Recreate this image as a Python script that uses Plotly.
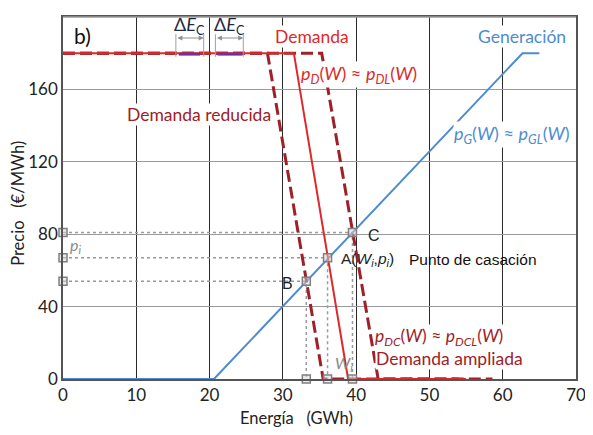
import plotly.graph_objects as go

# ---------------- data ----------------
gen_x = [0, 20.6, 62.7, 65]
gen_y = [0, 0, 180, 180]

dem_x = [0, 31.5, 38.9, 55]
dem_y = [180, 180, 0, 0]

red_x = [0, 27.9, 35.5, 54]
red_y = [180, 180, 0, 0]

amp_x = [0, 35.3, 43.0, 58.6]
amp_y = [180, 180, 0, 0]

purple_segments = [(15.8, 18.7), (21.1, 24.5)]
purple_level = 179.5

delta_brackets = [(15.4, 19.2), (20.8, 24.6)]
bracket_low, bracket_high, bracket_arrow = 178, 190.5, 188.4

point_names = ["B", "A", "C"]
point_w = [33.2, 36.1, 39.5]
point_p = [54, 67, 81]

x_ticks = [0, 10, 20, 30, 40, 50, 60, 70]
y_ticks = [0, 40, 80, 120, 160, 200]

# ---------------- style ----------------
RED = "#dc2a2a"
DARKRED = "#9e2128"
BLUE = "#4d8ccf"
PURPLE = "#7030a0"
FONT = "Lato"
ARIAL = "Liberation Sans"

fig = go.Figure()

# dotted guide lines
for w, p in zip(point_w, point_p):
    fig.add_trace(go.Scatter(x=[0, w, w], y=[p, p, 0], mode="lines",
                             line=dict(color="#9a9a9a", width=1.5, dash="dot"),
                             hoverinfo="skip", showlegend=False))

# generation
fig.add_trace(go.Scatter(x=gen_x, y=gen_y, mode="lines",
                         line=dict(color=BLUE, width=2), showlegend=False))

# reduced & amplified demand (dashed)
fig.add_trace(go.Scatter(x=red_x, y=red_y, mode="lines",
                         line=dict(color=DARKRED, width=3, dash="12px,5px"), showlegend=False))
fig.add_trace(go.Scatter(x=amp_x, y=amp_y, mode="lines",
                         line=dict(color=DARKRED, width=3, dash="12px,5px"), showlegend=False))
# demand (solid)
fig.add_trace(go.Scatter(x=dem_x, y=dem_y, mode="lines",
                         line=dict(color=RED, width=2), showlegend=False))

# purple segments
for a, b in purple_segments:
    fig.add_trace(go.Scatter(x=[a, b], y=[purple_level, purple_level], mode="lines",
                             line=dict(color=PURPLE, width=3), showlegend=False))

# markers
mk_x, mk_y = [], []
for w, p in zip(point_w, point_p):
    mk_x += [0, w, w]
    mk_y += [p, p, 0]
fig.add_trace(go.Scatter(x=mk_x, y=mk_y, mode="markers",
                         marker=dict(symbol="square", size=8, color="rgba(215,215,215,0.5)",
                                     line=dict(color="#808080", width=1.5)),
                         cliponaxis=False, showlegend=False))

shapes = []
annotations = []
for a, b in delta_brackets:
    for xv in (a, b):
        shapes.append(dict(type="line", xref="x", yref="y", x0=xv, x1=xv,
                           y0=bracket_low, y1=bracket_high,
                           line=dict(color="#a0a0a0", width=1)))
    annotations.append(dict(x=b, y=bracket_arrow, ax=a, ay=bracket_arrow,
                            xref="x", yref="y", axref="x", ayref="y", text="",
                            showarrow=True, arrowhead=2, arrowside="end+start",
                            arrowsize=1, arrowwidth=1, arrowcolor="#909090"))
    annotations.append(dict(x=(a + b) / 2, y=195.5, xref="x", yref="y",
                            text="Δ<i>E</i><sub>C</sub>", showarrow=False,
                            font=dict(family=FONT, size=18, color="#1f2a44")))

# grey top border (reference shows it lighter than the other sides)
shapes.append(dict(type="line", xref="paper", yref="paper", x0=0, x1=1, y0=1, y1=1,
                   line=dict(color="#9a9a9a", width=1.5)))


def label(x, y, text, color, size=17.5, family=FONT, bg=None, xanchor="center"):
    d = dict(x=x, y=y, xref="x", yref="y", text=text, showarrow=False,
             xanchor=xanchor, font=dict(family=family, size=size, color=color))
    if bg:
        d["bgcolor"] = bg
        d["borderpad"] = 0
    annotations.append(d)


label(2.6, 190, "b)", "#111111", size=21, family=FONT)
label(34, 189, "Demanda", RED, bg="white")
label(40.4, 168.5, "<i>p<sub>D</sub></i>(<i>W</i>) ≈ <i>p<sub>DL</sub></i>(<i>W</i>)", RED, size=18, bg="white")
label(18.6, 146, "Demanda reducida", DARKRED, bg="white")
label(62.6, 189, "Generación", BLUE, bg="white")
label(61.2, 135, "<i>p<sub>G</sub></i>(<i>W</i>) ≈ <i>p<sub>GL</sub></i>(<i>W</i>)", BLUE, size=18, bg="white")
label(42.4, 79.5, "C", "#222222", size=16, family=ARIAL)
label(37.6, 66, "A(<i>W<sub>i</sub></i>,<i>p<sub>i</sub></i>)", "#222222", size=15.5, family=ARIAL, xanchor="left")
label(56, 66, "Punto de casación", "#111111", size=15.5, family=ARIAL)
label(30.6, 53, "B", "#222222", size=16, family=ARIAL)
label(1.7, 73.5, "<i>p<sub>i</sub></i>", "#8a8a8a", size=16)
label(38.4, 8.5, "<i>W<sub>i</sub></i>", "#8a8a8a", size=16)
label(51.3, 23, "<i>p<sub>DC</sub></i>(<i>W</i>) ≈ <i>p<sub>DCL</sub></i>(<i>W</i>)", DARKRED, size=17.5, bg="white")
label(52.7, 11.5, "Demanda ampliada", DARKRED, bg="white")

annotations.append(dict(x=0.455, y=-0.107, xref="paper", yref="paper",
                        xanchor="center", yanchor="middle",
                        text="Energía   (GWh)", showarrow=False,
                        font=dict(family=FONT, size=16.5, color="#222222")))
annotations.append(dict(x=-0.087, y=0.485, xref="paper", yref="paper", textangle=-90,
                        xanchor="center", yanchor="middle",
                        text="Precio   (€/MWh)", showarrow=False,
                        font=dict(family=FONT, size=16.5, color="#222222")))

fig.update_layout(
    width=585, height=427,
    margin=dict(l=55, r=11, t=7, b=56),
    paper_bgcolor="white", plot_bgcolor="white",
    shapes=shapes, annotations=annotations,
    xaxis=dict(range=[0, 70], tickvals=x_ticks, showgrid=True, gridcolor="#2a2a2a",
               gridwidth=1.3, zeroline=False, showline=True, linecolor="#555555",
               linewidth=1.5, mirror=True, ticks="", fixedrange=True,
               tickfont=dict(family=FONT, size=17, color="#222222")),
    yaxis=dict(range=[0, 200], tickvals=y_ticks, showgrid=True, gridcolor="#9a9a9a",
               gridwidth=1.3, zeroline=False, showline=True, linecolor="#555555",
               linewidth=1.5, mirror=True, ticks="", fixedrange=True,
               tickfont=dict(family=FONT, size=17, color="#222222")),
)

fig.write_html("out.html")
